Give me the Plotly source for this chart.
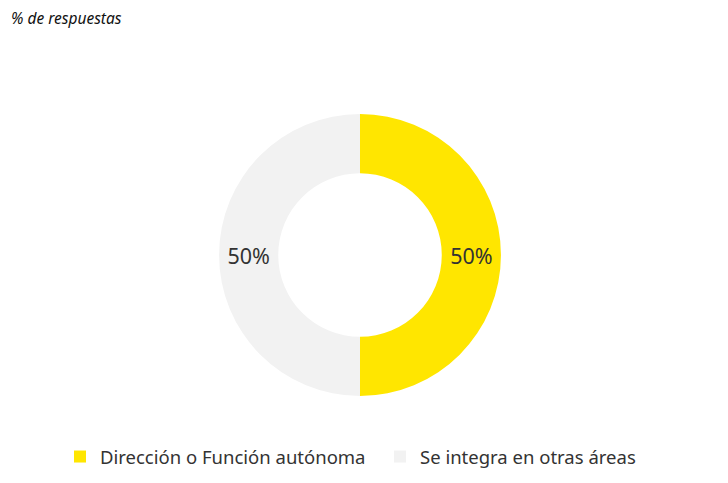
import plotly.graph_objects as go

labels = ["Dirección o Función autónoma", "Se integra en otras áreas"]
values = [50, 50]
colors = ["#FFE600", "#F2F2F2"]

# page has an 8px body margin; compensate in margins
M_L, M_R, M_T, M_B = 0, 24, 106, 95
PLOT_W = 728 - M_L - M_R
PLOT_H = 483 - M_T - M_B

fig = go.Figure(go.Pie(
    labels=labels,
    values=values,
    hole=0.58,
    sort=False,
    direction="clockwise",
    rotation=0,
    marker=dict(colors=colors, line=dict(width=0)),
    textinfo="percent",
    textposition="inside",
    insidetextorientation="horizontal",
    textfont=dict(family="Noto Sans", size=21.5, color="#333333"),
    hoverinfo="label+percent",
))

fig.update_layout(
    width=728, height=483,
    margin=dict(l=M_L, r=M_R, t=M_T, b=M_B, autoexpand=False),
    paper_bgcolor="white",
    plot_bgcolor="white",
    showlegend=True,
    legend=dict(
        orientation="h",
        x=52 / PLOT_W, xanchor="left",
        y=-42 / PLOT_H, yanchor="top",
        font=dict(family="Noto Sans", size=18.5, color="#333333"),
        entrywidth=275,
        itemwidth=30,
    ),
    annotations=[dict(
        text="<i>% de respuestas</i>",
        xref="paper", yref="paper",
        x=1 / PLOT_W, y=1 + (M_T + 3) / PLOT_H,
        xanchor="left", yanchor="top",
        showarrow=False,
        font=dict(family="Noto Sans", size=15.5, color="#111111"),
    )],
)
fig.write_html("out.html")
